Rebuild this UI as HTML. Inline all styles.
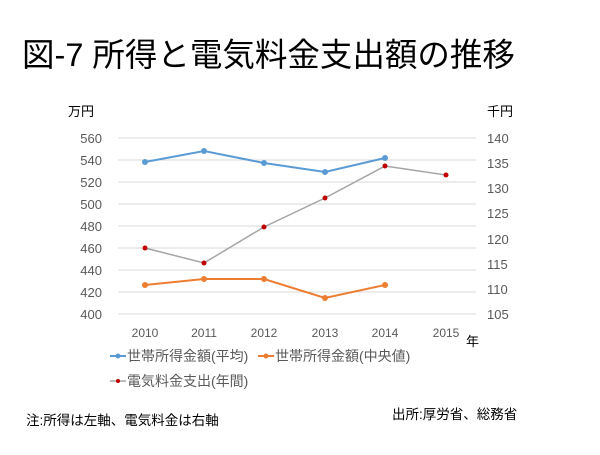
<!DOCTYPE html>
<html><head><meta charset="utf-8"><style>
body{margin:0;background:#fff;}
svg text{font-family:"Liberation Sans","Noto Sans CJK JP",sans-serif;}
</style></head><body>
<svg width="600" height="450" xmlns="http://www.w3.org/2000/svg">
<text x="22" y="66" font-size="32.5" fill="#000">図-7 所得と電気料金支出額の推移</text>
<g stroke="#d9d9d9" stroke-width="1">
<line x1="118" x2="476" y1="138" y2="138"/><line x1="118" x2="476" y1="160" y2="160"/>
<line x1="118" x2="476" y1="182" y2="182"/><line x1="118" x2="476" y1="204" y2="204"/>
<line x1="118" x2="476" y1="226" y2="226"/><line x1="118" x2="476" y1="248" y2="248"/>
<line x1="118" x2="476" y1="270" y2="270"/><line x1="118" x2="476" y1="292" y2="292"/>
<line x1="118" x2="476" y1="314" y2="314"/>
</g>
<g font-size="13" fill="#595959" text-anchor="end">
<text x="102" y="143">560</text><text x="102" y="165">540</text><text x="102" y="187">520</text>
<text x="102" y="209">500</text><text x="102" y="231">480</text><text x="102" y="253">460</text>
<text x="102" y="275">440</text><text x="102" y="297">420</text><text x="102" y="319">400</text>
</g>
<g font-size="13" fill="#595959" text-anchor="start">
<text x="487" y="143">140</text><text x="487" y="168">135</text><text x="487" y="193">130</text>
<text x="487" y="218">125</text><text x="487" y="244">120</text><text x="487" y="269">115</text>
<text x="487" y="294">110</text><text x="487" y="319">105</text>
</g>
<g font-size="12" fill="#595959" text-anchor="middle">
<text x="145" y="337">2010</text><text x="204" y="337">2011</text><text x="264" y="337">2012</text>
<text x="325" y="337">2013</text><text x="385" y="337">2014</text><text x="446" y="337">2015</text>
</g>
<text x="68" y="116" font-size="13" fill="#000">万円</text>
<text x="487" y="116" font-size="13" fill="#000">千円</text>
<text x="466" y="346" font-size="13" fill="#000">年</text>
<polyline fill="none" stroke="#5b9bd5" stroke-width="2" points="145,162 204,151 264,163 325,172 385,158"/>
<g fill="#5b9bd5"><circle cx="145" cy="162" r="3"/><circle cx="204" cy="151" r="3"/><circle cx="264" cy="163" r="3"/><circle cx="325" cy="172" r="3"/><circle cx="385" cy="158" r="3"/></g>
<polyline fill="none" stroke="#ed7d31" stroke-width="2" points="145,285 204,279 264,279 325,298 385,285"/>
<g fill="#ed7d31"><circle cx="145" cy="285" r="3"/><circle cx="204" cy="279" r="3"/><circle cx="264" cy="279" r="3"/><circle cx="325" cy="298" r="3"/><circle cx="385" cy="285" r="3"/></g>
<polyline fill="none" stroke="#a5a5a5" stroke-width="1.5" points="145,248 204,263 264,227 325,198 385,166 446,175"/>
<g fill="#c00000"><circle cx="145" cy="248" r="2.5"/><circle cx="204" cy="263" r="2.5"/><circle cx="264" cy="227" r="2.5"/><circle cx="325" cy="198" r="2.5"/><circle cx="385" cy="166" r="2.5"/><circle cx="446" cy="175" r="2.5"/></g>
<g font-size="14" fill="#595959">
<line x1="110" x2="126" y1="356" y2="356" stroke="#5b9bd5" stroke-width="2"/><circle cx="118" cy="356" r="2.5" fill="#5b9bd5"/>
<text x="127" y="361">世帯所得金額(平均)</text>
<line x1="258" x2="274" y1="356" y2="356" stroke="#ed7d31" stroke-width="2"/><circle cx="266" cy="356" r="2.5" fill="#ed7d31"/>
<text x="275" y="361">世帯所得金額(中央値)</text>
<line x1="110" x2="126" y1="381" y2="381" stroke="#a5a5a5" stroke-width="1.5"/><circle cx="118" cy="381" r="2" fill="#c00000"/>
<text x="127" y="386">電気料金支出(年間)</text>
</g>
<text x="26" y="425" font-size="13.5" fill="#000">注:所得は左軸、電気料金は右軸</text>
<text x="392" y="419" font-size="13.5" fill="#000">出所:厚労省、総務省</text>
</svg>
</body></html>
